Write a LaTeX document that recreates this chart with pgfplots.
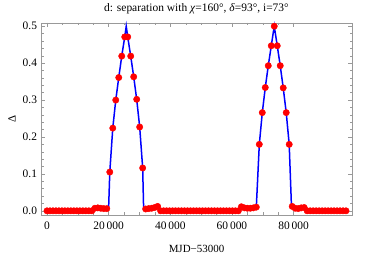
\documentclass[border=0pt]{standalone}
\usepackage{pgfplots}
\pgfplotsset{compat=1.18}
\usepackage{pgfplotstable}
\usepackage{fontspec}
\setmainfont{Liberation Serif}

\pgfplotstableread{
x y
0 0
970 0
1940 0
2910 0
3880 0
4850 0
5820 0
6790 0
7760 0
8730 0
9700 0
10670 0
11640 0
12610 0
13580 0
14550 0
15520 0.007
16490 0.008
17460 0.007
18430 0.006
19400 0.006
20370 0.105
21340 0.224
22310 0.300
23280 0.361
24250 0.419
25220 0.471
26190 0.471
27160 0.419
28130 0.363
29100 0.302
30070 0.227
31040 0.116
32010 0.005
32980 0.006
33950 0.007
34920 0.009
35890 0.012
36860 0
37830 0
38800 0
39770 0
40740 0
41710 0
42680 0
43650 0
44620 0
45590 0
46560 0
47530 0
48500 0
49470 0
50440 0
51410 0
52380 0
53350 0
54320 0
55290 0
56260 0
57230 0
58200 0
59170 0
60140 0
61110 0
62080 0
63050 0.011
64020 0.008
64990 0.007
65960 0.007
66930 0.008
67900 0.010
68870 0.180
69840 0.266
70810 0.334
71780 0.393
72750 0.447
73720 0.500
74690 0.447
75660 0.393
76630 0.333
77600 0.266
78570 0.180
79540 0.012
80510 0.007
81480 0.006
82450 0.008
83420 0.009
84390 0
85360 0
86330 0
87300 0
88270 0
89240 0
90210 0
91180 0
92150 0
93120 0
94090 0
95060 0
96030 0
97000 0
}\pts

\pgfplotstableread{
x y
0 0
14550 0
15520 0.007
16490 0.008
17460 0.007
18430 0.006
19400 0.006
20000 0.009
20370 0.105
21340 0.224
22310 0.300
23280 0.361
24250 0.419
25220 0.471
25705 0.500
26190 0.471
27160 0.419
28130 0.363
29100 0.302
30070 0.227
31040 0.116
31350 0.005
32010 0.005
32980 0.006
33950 0.007
34920 0.009
35890 0.012
36860 0
62080 0
63050 0.011
64020 0.008
64990 0.007
65960 0.007
66930 0.008
67900 0.010
68870 0.180
69840 0.266
70810 0.334
71780 0.393
72750 0.447
73720 0.500
74690 0.447
75660 0.393
76630 0.333
77600 0.266
78570 0.180
79300 0.012
79540 0.012
80510 0.007
81480 0.006
82450 0.008
83420 0.009
84390 0
97000 0
}\model

\begin{document}
\begin{tikzpicture}
\begin{axis}[
  at={(0,0)}, anchor=south west,
  scale only axis,
  width=311bp, height=192bp,
  xmin=-1940, xmax=98940,
  ymin=-0.0105, ymax=0.5095,
  scaled x ticks=false,
  scaled y ticks=false,
  xtick={0,20000,40000,60000,80000},
  xticklabels={0,20\,000,40\,000,60\,000,80\,000},
  minor x tick num=3,
  ytick={0,0.1,0.2,0.3,0.4,0.5},
  minor y tick num=4,
  yticklabel style={/pgf/number format/fixed, /pgf/number format/fixed zerofill, /pgf/number format/precision=1, /pgf/number format/assume math mode=true, xshift=-0.5bp},
  tick align=inside,
  major tick length=4bp,
  minor tick length=2.5bp,
  axis line style={draw=gray!80},
  every tick/.style={gray!80},
  tick label style={font=\fontsize{11.5}{12}\selectfont, black},
  xticklabel style={yshift=-4bp},
  every axis x label/.style={at={(axis description cs:0.5,0)}, yshift=-34bp, anchor=center},
  every axis y label/.style={at={(axis description cs:0,0.5)}, xshift=-29bp, rotate=90, anchor=center},
  xlabel={MJD−53000},
  ylabel={Δ},
  label style={font=\fontsize{11}{12}\selectfont},
  title={d: separation with \textit{χ}=160°, \textit{δ}=93°, i=73°},
  every axis title/.style={at={(axis description cs:0.5,1)}, yshift=14.3bp, anchor=center, font=\fontsize{11.5}{13}\selectfont},
  clip=false,
]
\addplot[blue, line width=1.5bp, no markers] table[x=x,y=y]{\model};
\addplot[only marks, mark=*, mark size=3.2bp, color=red, mark options={fill=red, draw=red}] table[x=x,y=y]{\pts};
\end{axis}
\pgfresetboundingbox
\path (-41bp,-41bp) rectangle (333bp,214.7bp);
\end{tikzpicture}
\end{document}
